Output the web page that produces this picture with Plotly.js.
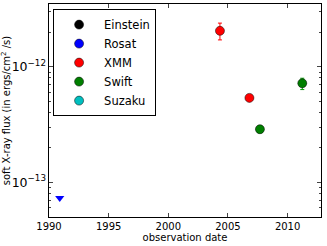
<!DOCTYPE html>
<html><head><meta charset="utf-8">
<script src="https://cdn.plot.ly/plotly-3.0.1.min.js"></script>
<style>html,body{margin:0;padding:0;background:#fff}#c{width:327px;height:246px}</style>
</head><body><div id="c"></div>
<script>
const einsteinX = [null], einsteinY = [null];
const rosatX = [1990.9], rosatY = [7.3e-14];
const xmmX = [2004.33, 2006.8], xmmY = [2.05e-12, 5.38e-13];
const xmmErrPlus = [0.34e-12, 0], xmmErrMinus = [0.34e-12, 0];
const swiftX = [2007.68, 2011.23], swiftY = [2.88e-13, 7.2e-13];
const swiftErrPlus = [0.2e-13, 0.76e-13], swiftErrMinus = [0.2e-13, 0.85e-13];
const suzakuX = [null], suzakuY = [null];
const xTicks = [1990, 1995, 2000, 2005, 2010];

const mk = (c) => ({color: c, size: 9, line: {color: '#000', width: 0.5}});
const eb = (c) => ({type: 'data', array: [0], visible: true, color: c, thickness: 1, width: 2});
const traces = [
  {name: 'Einstein', x: einsteinX, y: einsteinY, mode: 'markers', marker: mk('#000000'), error_y: eb('#000')},
  {name: 'Rosat', x: [null], y: [null], mode: 'markers', marker: mk('#0000ff'), error_y: eb('#0000ff')},
  {name: 'Rosat limit', x: rosatX, y: rosatY, mode: 'markers', showlegend: false,
   marker: {color: '#0000ff', size: 8, symbol: 'triangle-down', line: {width: 0}}},
  {name: 'XMM', x: xmmX, y: xmmY, mode: 'markers', marker: mk('#ff0000'),
   error_y: {type: 'data', symmetric: false, array: xmmErrPlus, arrayminus: xmmErrMinus, color: '#ff0000', thickness: 1, width: 2}},
  {name: 'Swift', x: swiftX, y: swiftY, mode: 'markers', marker: mk('#007f00'),
   error_y: {type: 'data', symmetric: false, array: swiftErrPlus, arrayminus: swiftErrMinus, color: '#00a000', thickness: 1, width: 2}},
  {name: 'Suzaku', x: suzakuX, y: suzakuY, mode: 'markers', marker: mk('#00bfbf'), error_y: eb('#00bfbf')}
];
const layout = {
  width: 327, height: 246,
  margin: {l: 49, r: 6, t: 4, b: 29},
  paper_bgcolor: '#fff', plot_bgcolor: '#fff',
  font: {family: 'DejaVu Sans', size: 10, color: '#000'},
  showlegend: true,
  legend: {x: 0.015, y: 0.976, xanchor: 'left', yanchor: 'top', bordercolor: '#000', borderwidth: 1,
           bgcolor: '#fff', font: {size: 11.5}, tracegroupgap: 0, itemwidth: 40},
  xaxis: {range: [1990, 2012.8], tickvals: xTicks, ticktext: xTicks.map(String), ticks: 'inside', ticklen: 4,
          showline: true, linecolor: '#000', linewidth: 1, mirror: 'allticks', showgrid: false, zeroline: false,
          title: {text: 'observation date', font: {size: 10}, standoff: 0}},
  yaxis: {type: 'log', range: [-13.301, -11.456], dtick: 1, exponentformat: 'power', ticks: 'inside', ticklen: 4,
          showline: true, linecolor: '#000', linewidth: 1, mirror: 'allticks', showgrid: false, zeroline: false,
          minor: {ticks: 'inside', ticklen: 2, showgrid: false},
          title: {text: 'soft X-ray flux (in ergs/cm<sup>2</sup> /s)', font: {size: 10}, standoff: 4}}
};
Plotly.newPlot('c', traces, layout, {staticPlot: true});
</script></body></html>
